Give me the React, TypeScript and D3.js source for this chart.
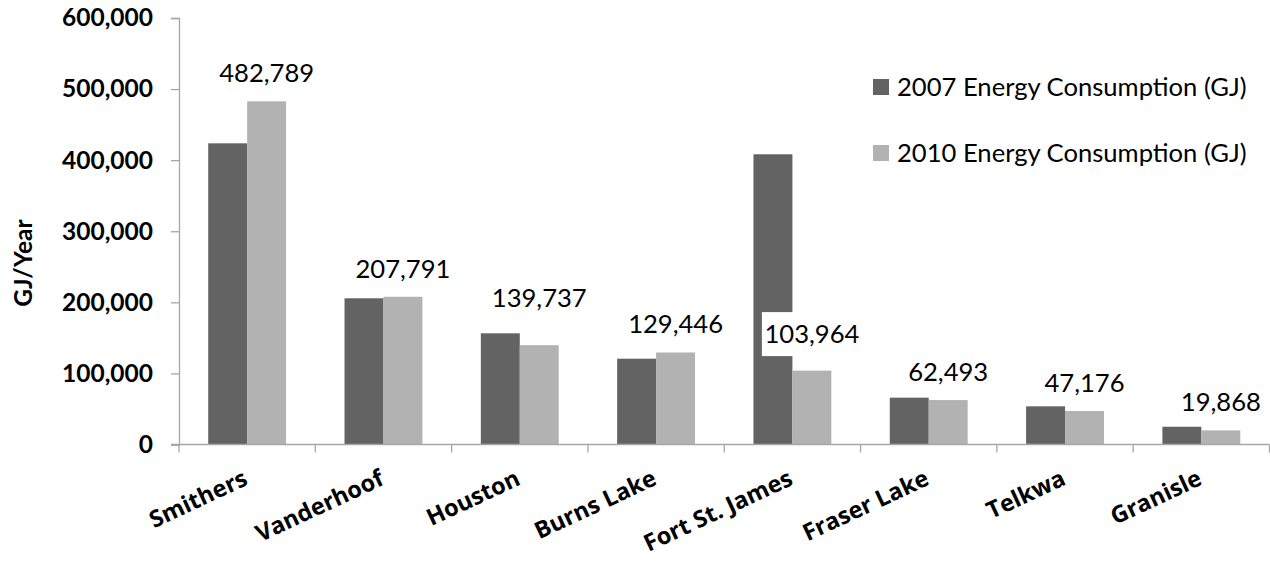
import React, { useRef, useEffect } from 'react';
import * as d3 from 'd3';

const categories = ["Smithers", "Vanderhoof", "Houston", "Burns Lake", "Fort St. James", "Fraser Lake", "Telkwa", "Granisle"];
const energy2007 = [423700, 205700, 156400, 120700, 408300, 65900, 53700, 25000];
const energy2010 = [482789, 207791, 139737, 129446, 103964, 62493, 47176, 19868];
const seriesNames = ["2007 Energy Consumption (GJ)", "2010 Energy Consumption (GJ)"];
const yTicks = [0, 100000, 200000, 300000, 400000, 500000, 600000];

const WIDTH = 1270;
const HEIGHT = 565;
const colors = ["#636363", "#b2b2b2"];
const axisColor = "#a6a6a6";
const font = "Lato, 'Open Sans', sans-serif";

// manual label nudges (the original has a couple of labels dragged up)
const labelNudge: Record<string, number> = { "Houston": 19, "Fort St. James": 8 };

const App: React.FC = () => {
    const svgRef = useRef<SVGSVGElement>(null);

    useEffect(() => {
        if (!svgRef.current) return;
        const svg = d3.select(svgRef.current);
        svg.selectAll("*").remove();

        const left = 179, right = 1269.5, top = 18, bottom = 444.5;

        const x = d3.scaleBand().domain(categories).range([left, right]).padding(0);
        const bw = x.bandwidth();
        const barW = bw / 3.5;
        const x1 = d3.scaleBand().domain(["2007", "2010"])
            .range([(bw - 2 * barW) / 2, (bw + 2 * barW) / 2]).padding(0);
        const y = d3.scaleLinear().domain([0, 600000]).range([bottom, top]);

        const rows = categories.map((c, i) => ({ c, v: [energy2007[i], energy2010[i]] }));

        // bars
        const groups = svg.append("g").selectAll("g")
            .data(rows).enter().append("g")
            .attr("transform", d => `translate(${x(d.c)},0)`);
        groups.selectAll("rect")
            .data(d => d.v.map((v, k) => ({ v, k })))
            .enter().append("rect")
            .attr("x", d => x1(d.k === 0 ? "2007" : "2010")!)
            .attr("width", barW)
            .attr("y", d => y(d.v))
            .attr("height", d => bottom - y(d.v))
            .attr("fill", d => colors[d.k]);

        // y axis
        const yAxis = svg.append("g")
            .attr("transform", `translate(${left},0)`)
            .call(d3.axisLeft(y).tickValues(yTicks).tickSize(8).tickPadding(18)
                .tickFormat(d => d3.format(",")(d as number)));
        yAxis.select(".domain").attr("stroke", axisColor).attr("stroke-width", 1.3);
        yAxis.selectAll(".tick line").attr("stroke", axisColor).attr("stroke-width", 1.3);
        yAxis.selectAll(".tick text")
            .attr("font-family", font).attr("font-weight", "bold")
            .attr("font-size", 24.5).attr("fill", "#000");

        // x axis
        const xAxis = svg.append("g")
            .attr("transform", `translate(0,${bottom})`)
            .call(d3.axisBottom(x).tickSize(0).tickFormat(() => ""));
        xAxis.select(".domain").attr("stroke", axisColor).attr("stroke-width", 1.3)
            .attr("d", `M${left - 8},0H${right}`);
        xAxis.selectAll(".tick").remove();
        xAxis.selectAll("line.sep")
            .data(d3.range(categories.length + 1)).enter().append("line")
            .attr("x1", i => left + i * bw).attr("x2", i => left + i * bw)
            .attr("y1", 0).attr("y2", 8)
            .attr("stroke", axisColor).attr("stroke-width", 1.3);

        // category labels
        svg.append("g").selectAll("text")
            .data(categories).enter().append("text")
            .attr("transform", d => `translate(${x(d)! + bw / 2 + 2},484) rotate(-25)`)
            .attr("text-anchor", "end")
            .attr("font-family", "'Open Sans', sans-serif")
            .attr("font-weight", "bold")
            .attr("font-size", 23.5)
            .text(d => d);

        // y axis title
        svg.append("text")
            .attr("transform", "translate(23.5,263) rotate(-90)")
            .attr("text-anchor", "middle")
            .attr("dy", "0.36em")
            .attr("font-family", font).attr("font-weight", "bold")
            .attr("font-size", 24.5)
            .text("GJ/Year");

        // data labels for 2010
        const labels = svg.append("g").selectAll("g")
            .data(rows).enter().append("g")
            .attr("transform", d => {
                const cx = x(d.c)! + x1("2010")! + barW / 2;
                const cy = y(d.v[1]) - 28.5 - (labelNudge[d.c] || 0);
                return `translate(${cx},${cy})`;
            });
        labels.append("rect")
            .attr("x", -50).attr("y", -22).attr("width", 100).attr("height", 44)
            .attr("fill", "#fff");
        labels.append("text")
            .attr("text-anchor", "middle")
            .attr("dy", "0.36em")
            .attr("font-family", font)
            .attr("font-size", 25.6)
            .text(d => d3.format(",")(d.v[1]));

        // legend
        const legend = svg.append("g").selectAll("g")
            .data(seriesNames).enter().append("g")
            .attr("transform", (_d, i) => `translate(873,${87 + i * 66})`);
        legend.append("rect")
            .attr("x", 0).attr("y", -8).attr("width", 16).attr("height", 16)
            .attr("fill", (_d, i) => colors[i]);
        legend.append("text")
            .attr("x", 24).attr("dy", "0.36em")
            .attr("font-family", font).attr("font-size", 25.6)
            .text(d => d);
    }, []);

    return (
        <svg
            ref={svgRef}
            width={WIDTH}
            height={HEIGHT}
            style={{ position: "absolute", left: 0, top: 0, background: "#fff" }}
        />
    );
};

export default App;
